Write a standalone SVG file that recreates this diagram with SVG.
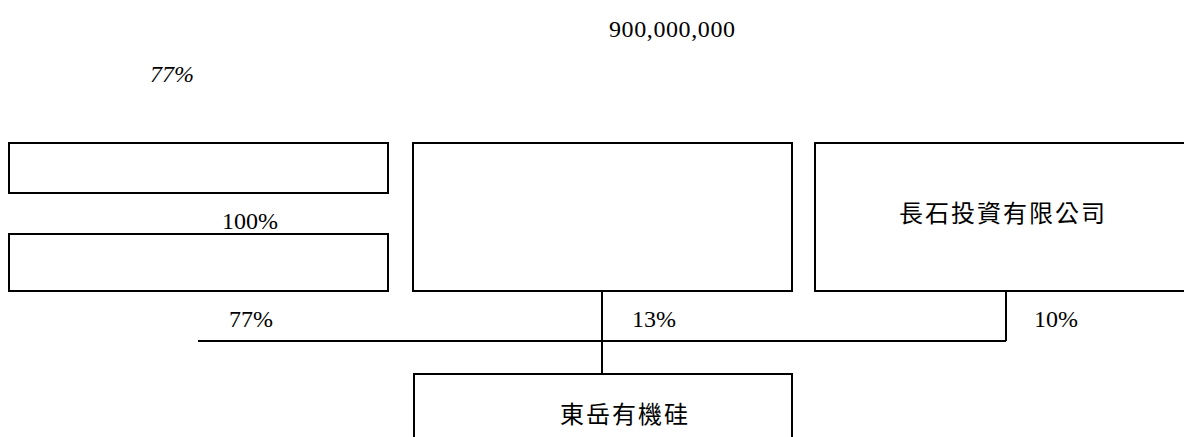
<svg xmlns="http://www.w3.org/2000/svg" width="1184" height="437" viewBox="0 0 1184 437">
<style>
.box{fill:#fff;stroke:#000;stroke-width:2}
.ln{stroke:#000;stroke-width:2;fill:none}
.t{font-family:"Liberation Serif","Times New Roman",serif;font-size:24px;fill:#000}
.cjk{font-family:"Liberation Serif","Noto Sans CJK TC",serif;font-size:24px;fill:#000;letter-spacing:2px}
</style>
<rect width="1184" height="437" fill="#fff"/>
<text class="t" x="609" y="37" font-size="26" letter-spacing="0.6">900,000,000</text>
<text class="t" x="150" y="82" font-style="italic" font-size="27">77%</text>
<g id="connectors">
<path class="ln" d="M602 291 V374"/>
<path class="ln" d="M198 341 H1006"/>
<path class="ln" d="M1006 291 V341"/>
</g>
<g id="n1"><rect class="box" x="9" y="143" width="379" height="50"/></g>
<g id="n2"><rect class="box" x="9" y="234" width="379" height="57"/></g>
<g id="n3"><rect class="box" x="413" y="143" width="379" height="148"/></g>
<g id="n4"><rect class="box" x="815" y="143" width="380" height="148"/><text class="cjk" x="1003" y="222" text-anchor="middle">長石投資有限公司</text></g>
<g id="n5"><rect class="box" x="414" y="374" width="378" height="80"/><text class="cjk" x="625" y="423" text-anchor="middle">東岳有機硅</text></g>
<text class="t" x="222" y="229">100%</text>
<text class="t" x="229" y="327" font-size="25">77%</text>
<text class="t" x="632" y="327" font-size="25">13%</text>
<text class="t" x="1034" y="327" font-size="25">10%</text>
</svg>
